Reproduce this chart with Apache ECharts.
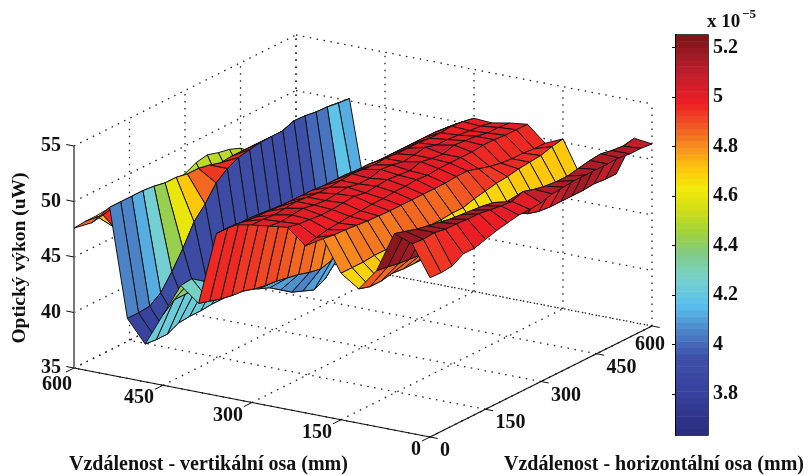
<!DOCTYPE html>
<html><head><meta charset="utf-8">
<style>html,body{margin:0;padding:0;background:#fff}#c{width:808px;height:475px}</style>
<script src="https://cdn.jsdelivr.net/npm/echarts@6/dist/echarts.min.js"></script>
</head><body><div id="c"></div>
<script>
const xMm=[0,30,60,90,120,150,180,210,240,270,300,330,360,390,420,450,480,510,540,570,600];
const yMm=[0,30,60,90,120,150,180,210,240,270,300,330,360,390,420,450,480,510,540,570,600];
const z00=[49.35,49.3,49.4,50.0,50.0,50.3,50.6,50.8,51.0,51.0,51.1,51.4,51.5,51.6,51.6,51.6,51.6,51.65,51.5,51.5,51.4];
const z01=[52.1,52.0,52.1,51.9,51.9,51.8,51.8,51.65,51.5,51.4,51.8,51.5,51.3,51.2,51.2,51.4,51.6,51.7,51.5,51.4,51.6];
const z02=[52.7,52.4,52.1,51.9,51.7,51.5,51.4,51.3,51.2,51.0,50.5,49.5,48.5,48.2,48.1,48.1,48.1,48.1,48.2,48.1,48.1];
const z03=[49.05,48.9,48.7,48.6,48.5,48.4,48.4,48.4,48.3,48.3,48.3,48.3,48.3,48.3,48.3,48.3,48.3,48.3,48.3,48.3,48.3];
const z04=[47.1,46.8,46.8,47.0,46.9,46.9,46.9,46.8,46.7,46.6,46.6,46.5,46.5,46.6,46.8,46.9,47.0,47.1,47.2,47.2,47.2];
const z05=[48.2,48.2,48.2,48.3,48.3,48.3,48.4,48.5,48.5,48.5,48.6,48.6,48.9,49.1,49.3,49.4,49.6,49.7,49.8,50.1,50.3];
const z06=[51.0,50.85,50.8,50.7,50.6,50.55,50.5,50.5,50.5,50.5,50.5,50.5,50.6,50.6,50.3,50.0,49.8,49.7,49.7,49.6,49.6];
const z07=[50.05,50.3,50.5,50.6,50.7,50.7,50.8,50.8,50.9,50.9,51.0,50.9,51.0,51.0,51.0,51.0,51.1,51.1,51.0,51.0,51.0];
const z08=[51.4,51.2,51.1,51.0,51.0,51.1,51.2,51.0,51.1,51.2,51.1,51.0,51.3,51.1,51.0,51.3,51.2,51.1,50.9,50.9,50.8];
const z09=[51.2,51.1,51.2,51.3,51.1,51.0,51.1,51.2,51.0,51.0,51.3,51.2,51.0,51.1,51.3,51.0,51.0,50.9,50.8,50.7,50.5];
const z10=[51.0,51.0,50.9,51.0,51.1,51.0,50.9,50.9,51.0,51.1,51.0,50.9,51.0,50.9,50.9,50.9,50.8,50.8,50.9,50.8,50.6];
const z11=[50.7,50.5,50.4,50.4,50.3,50.3,50.3,50.3,50.2,50.2,50.2,50.1,50.1,50.0,50.0,50.0,50.0,50.0,50.0,49.9,49.8];
const z12=[49.6,49.6,49.5,49.5,49.4,49.3,49.1,49.0,48.9,48.7,48.6,48.3,48.1,47.9,48.0,48.2,48.3,48.3,48.4,48.5,48.7];
const z13=[43.0,42.7,42.4,42.2,42.1,41.8,41.6,41.5,41.3,41.1,40.8,40.6,40.9,41.3,41.5,41.5,41.5,41.5,41.5,41.5,41.5];
const z14=[44.3,44.4,43.7,43.0,42.3,41.5,41.0,40.5,40.1,39.4,38.7,38.3,37.9,38.4,39.6,40.0,40.0,40.0,40.0,40.0,40.0];
const z15=[41.35,42.2,42.2,42.2,42.2,42.2,42.2,42.1,42.0,42.0,41.8,41.5,41.3,41.0,41.0,41.0,41.0,41.0,41.0,41.0,41.0];
const z16=[38.4,38.3,38.3,38.8,38.9,38.9,39.0,39.0,39.1,39.1,39.2,39.2,39.2,39.2,39.3,39.4,39.5,40.0,40.3,41.8,41.2];
const z17=[40.4,40.4,40.5,41.2,42.6,44.2,46.1,47.2,48.6,49.4,49.9,50.1,50.25,50.3,50.3,50.7,50.65,50.5,50.45,50.3,50.2];
const z18=[50.1,50.1,50.1,50.1,50.0,49.8,49.8,49.6,49.6,49.4,49.1,49.2,49.2,49.2,49.0,49.0,49.0,49.0,49.3,49.3,49.3];
const z19=[48.4,48.6,47.0,46.5,46.0,45.5,45.5,45.2,45.0,45.0,45.0,45.0,45.0,45.0,45.0,45.0,45.0,45.0,45.0,45.0,45.0];
const z20=[47.6,47.7,47.7,47.8,47.8,47.8,47.8,47.7,47.4,47.3,47.5,48.0,48.2,47.9,47.7,47.3,46.5,46.0,46.0,46.0,46.0];
const zRows=[z00,z01,z02,z03,z04,z05,z06,z07,z08,z09,z10,z11,z12,z13,z14,z15,z16,z17,z18,z19,z20];

const xTicks=[0,150,300,450,600];
const yTicks=[0,150,300,450,600];
const zTicks=[35,40,45,50,55];
const cbTicks=[3.8,4,4.2,4.4,4.6,4.8,5,5.2];
const cbStops=[[3.635,'#2a2d7c'],[3.8,'#37409c'],[3.95,'#3e50a8'],[4.0,'#4467b8'],[4.08,'#5092d0'],[4.16,'#58c0ef'],[4.27,'#78d2cc'],[4.36,'#7fcb8c'],[4.45,'#9ed23c'],[4.55,'#d3de16'],[4.63,'#f2ea0b'],[4.71,'#fdc70c'],[4.79,'#f7941e'],[4.88,'#f15a22'],[4.98,'#ed1c24'],[5.1,'#be1e2d'],[5.25,'#7a1416']];
const colorKnots=[[35,3.5],[49.3,4.94],[51.2,5.01],[51.5,5.13],[52.7,5.25],[56,5.4]];
const cbMin=3.635, cbMax=5.25, cbLevels=64;
const titleX='Vzdálenost - vertikální osa (mm)', titleY='Vzdálenost - horizontální osa (mm)', titleZ='Optický výkon (uW)';

const FONT='"Liberation Serif"';
const view={ox:430,oy:437,xx:-0.5933,xy:-0.115,yx:0.37,yy:-0.185,zy:-11.1,z0:35,zMax:55,xMax:600,yMax:600};
function project(x,y,z){return [view.ox+view.xx*x+view.yx*y, view.oy+view.xy*x+view.yy*y+view.zy*(z-view.z0)];}
function hex(c){return [parseInt(c.slice(1,3),16),parseInt(c.slice(3,5),16),parseInt(c.slice(5,7),16)];}
function colorAt(v){
  const lv=Math.min(cbLevels-1,Math.max(0,Math.floor((v-cbMin)/(cbMax-cbMin)*cbLevels)));
  const t=cbMin+(lv+0.5)*(cbMax-cbMin)/cbLevels;
  let k=0; while(k<cbStops.length-2&&t>cbStops[k+1][0])k++;
  const a=cbStops[k],b=cbStops[k+1],f=Math.max(0,Math.min(1,(t-a[0])/(b[0]-a[0])));
  const A=hex(a[1]),B=hex(b[1]);
  return 'rgb('+A.map((q,n)=>Math.round(q+(B[n]-q)*f)).join(',')+')';
}
function surfaceColor(z){
  let k=0; while(k<colorKnots.length-2&&z>colorKnots[k+1][0])k++;
  const a=colorKnots[k],b=colorKnots[k+1];
  let v;
  if(z<49.3) v=z/10; else v=a[1]+(b[1]-a[1])*(z-a[0])/(b[0]-a[0]);
  return colorAt(v);
}
const cells=[];
for(let i=xMm.length-2;i>=0;i--)for(let j=yMm.length-2;j>=0;j--)cells.push([i,j]);
const segs=[];
xTicks.forEach(x=>{segs.push([x,0,view.z0,x,view.yMax,view.z0]);segs.push([x,view.yMax,view.z0,x,view.yMax,view.zMax]);});
yTicks.forEach(y=>{segs.push([0,y,view.z0,view.xMax,y,view.z0]);segs.push([view.xMax,y,view.z0,view.xMax,y,view.zMax]);});
zTicks.forEach(z=>{segs.push([view.xMax,0,z,view.xMax,view.yMax,z]);segs.push([view.xMax,view.yMax,z,0,view.yMax,z]);});
const texts=[];
zTicks.forEach(z=>{const p=project(view.xMax,0,z);texts.push({t:String(z),x:p[0]-13,y:p[1],a:'right',f:20});});
xTicks.forEach(x=>{const p=project(x,0,view.z0);texts.push({t:String(x),x:Math.max(p[0]-9,72),y:p[1]+(x===view.xMax?17:13),a:'right',f:20});});
yTicks.forEach(y=>{const p=project(0,y,view.z0);texts.push({t:String(y),x:Math.min(p[0]+10,635),y:p[1]+(y===view.yMax?19:14),a:'left',f:20});});
texts.push({t:titleX,x:69,y:465,a:'left',f:20});
texts.push({t:titleY,x:504,y:465,a:'left',f:20});
texts.push({t:titleZ,x:20,y:258,a:'center',f:19.5,r:Math.PI/2});
texts.push({t:'x 10',x:707,y:22,a:'left',f:19});
texts.push({t:'−5',x:742,y:15,a:'left',f:13});

const levels=[];for(let k=0;k<cbLevels;k++)levels.push(k);
const chart=echarts.init(document.getElementById('c'));
function segItem(stroke,lw){return function(p,api){const v=[0,1,2,3,4,5].map(k=>api.value(k));const a=api.coord(project(v[0],v[1],v[2])),b=api.coord(project(v[3],v[4],v[5]));
  return {type:'line',shape:{x1:a[0],y1:a[1],x2:b[0],y2:b[1]},style:{stroke:stroke,lineWidth:lw,fill:null}};};}
chart.setOption({
  animation:false,backgroundColor:'#fff',
  grid:[{left:0,top:0,width:808,height:475,show:false},{left:676,top:35,width:32,height:400,show:true,borderColor:'#000',borderWidth:1.5,backgroundColor:'transparent'}],
  xAxis:[{gridIndex:0,type:'value',min:0,max:808,show:false},{gridIndex:1,type:'value',min:0,max:1,show:false}],
  yAxis:[
    {gridIndex:0,type:'value',min:0,max:475,inverse:true,show:false},
    {gridIndex:1,type:'value',min:cbMin,max:cbMax,position:'right',splitLine:{show:false},
      axisLine:{show:true,lineStyle:{color:'#000',width:1.5}},
      axisTick:{show:true,inside:true,length:4,lineStyle:{color:'#000'},customValues:cbTicks},
      axisLabel:{show:true,inside:false,margin:5,color:'#111',fontFamily:FONT,fontWeight:'bold',fontSize:20,customValues:cbTicks,formatter:v=>String(Math.round(v*10)/10)}},
    {gridIndex:1,type:'value',min:cbMin,max:cbMax,position:'left',splitLine:{show:false},
      axisLine:{show:true,lineStyle:{color:'#000',width:1.5}},
      axisTick:{show:true,inside:true,length:4,lineStyle:{color:'#000'},customValues:cbTicks},
      axisLabel:{show:false}}
  ],
  series:[
    {type:'custom',xAxisIndex:0,yAxisIndex:0,silent:true,clip:false,z:1,data:segs,
     renderItem(p,api){const s=segs[p.dataIndex];const a=api.coord(project(s[0],s[1],s[2])),b=api.coord(project(s[3],s[4],s[5]));
       return {type:'line',shape:{x1:a[0],y1:a[1],x2:b[0],y2:b[1]},style:{stroke:'#222',lineWidth:1.3,lineDash:[1.5,5.5],fill:null}};}},
    {type:'custom',xAxisIndex:0,yAxisIndex:0,silent:true,clip:false,z:2,data:[[0,0,view.z0,view.xMax,0,view.z0],[0,0,view.z0,0,view.yMax,view.z0]],renderItem:segItem('#111',1.2)},
    {type:'custom',xAxisIndex:0,yAxisIndex:0,silent:true,clip:false,z:2,data:[[view.xMax,0,view.z0,view.xMax,0,view.zMax]],renderItem:segItem('#777',2)},
    {type:'custom',xAxisIndex:0,yAxisIndex:0,silent:true,clip:false,z:3,
     data:[].concat(xTicks.map(x=>[x,0,view.z0,x,-22,view.z0]),yTicks.map(y=>[0,y,view.z0,-13,y,view.z0]),zTicks.map(z=>[view.xMax,0,z,view.xMax+13,0,z])),renderItem:segItem('#111',1)},
    {type:'custom',xAxisIndex:0,yAxisIndex:0,silent:true,clip:false,z:5,data:cells,
     renderItem(p,api){const i=api.value(0),j=api.value(1);
       const pt=(a,b)=>api.coord(project(xMm[a],yMm[b],zRows[a][b]));
       return {type:'polygon',shape:{points:[pt(i,j),pt(i+1,j),pt(i+1,j+1),pt(i,j+1)]},
         style:{fill:surfaceColor(zRows[i][j+1]),stroke:'#141414',lineWidth:1,lineJoin:'round'}};}},
    {type:'custom',xAxisIndex:0,yAxisIndex:0,silent:true,clip:false,z:6,data:texts.map((t,k)=>[k]),
     renderItem(p,api){const t=texts[p.dataIndex];const c=api.coord([t.x,t.y]);
       return {type:'text',x:c[0],y:c[1],rotation:t.r||0,style:{text:t.t,textAlign:t.a,textVerticalAlign:'middle',fill:'#111',font:'bold '+t.f+'px '+FONT}};}},
    {type:'custom',xAxisIndex:1,yAxisIndex:1,silent:true,z:4,data:levels,
     renderItem(p,api){const k=api.value(0);const st=(cbMax-cbMin)/cbLevels;const v0=cbMin+k*st;
       const a=api.coord([0,v0]),b=api.coord([1,v0+st]);
       return {type:'rect',shape:{x:a[0],y:b[1],width:b[0]-a[0],height:a[1]-b[1]+0.5},style:{fill:colorAt(v0+st/2)}};}}
  ]
});
</script></body></html>
